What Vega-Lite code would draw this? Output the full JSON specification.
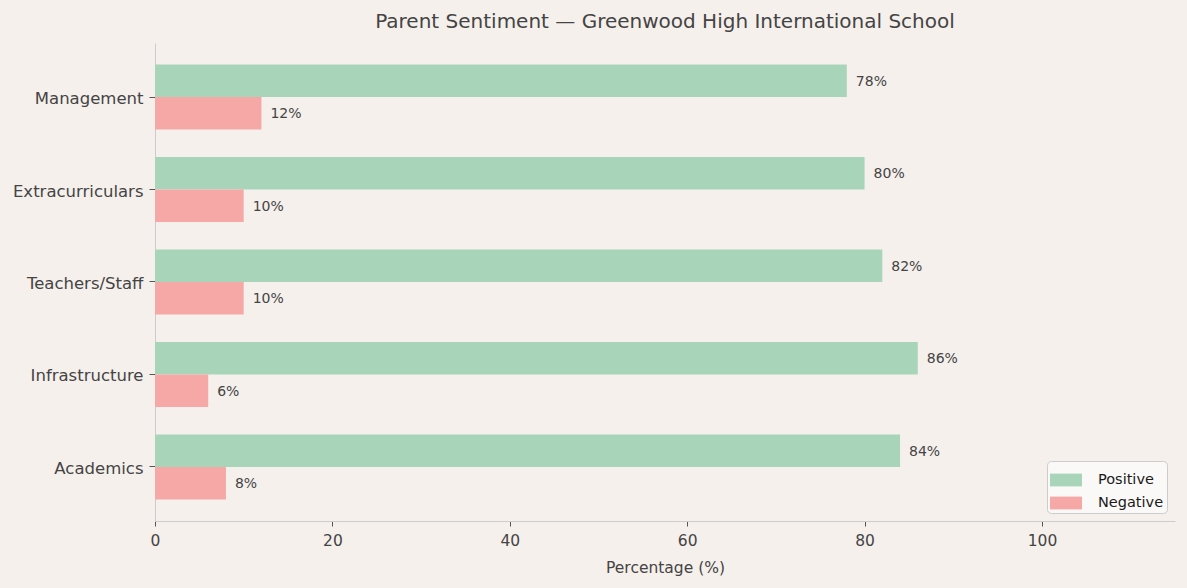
{
  "$schema": "https://vega.github.io/schema/vega-lite/v6.json",
  "width": 1020,
  "height": 478,
  "autosize": {"type": "none"},
  "padding": {"left": 155, "top": 43, "right": 12, "bottom": 67},
  "background": "#f5f0ec",
  "title": {
    "text": "Parent Sentiment — Greenwood High International School",
    "fontSize": 20,
    "fontWeight": "normal",
    "color": "#444444",
    "font": "DejaVu Sans",
    "offset": 11
  },
  "data": {
    "values": [
      {"category": "Management", "series": "Positive", "value": 78},
      {"category": "Management", "series": "Negative", "value": 12},
      {"category": "Extracurriculars", "series": "Positive", "value": 80},
      {"category": "Extracurriculars", "series": "Negative", "value": 10},
      {"category": "Teachers/Staff", "series": "Positive", "value": 82},
      {"category": "Teachers/Staff", "series": "Negative", "value": 10},
      {"category": "Infrastructure", "series": "Positive", "value": 86},
      {"category": "Infrastructure", "series": "Negative", "value": 6},
      {"category": "Academics", "series": "Positive", "value": 84},
      {"category": "Academics", "series": "Negative", "value": 8}
    ]
  },
  "encoding": {
    "y": {
      "field": "category",
      "type": "nominal",
      "sort": null,
      "scale": {"paddingInner": 0.297, "paddingOuter": 0.2325},
      "axis": {
        "title": null,
        "labelFontSize": 16.5,
        "labelColor": "#444444",
        "labelFont": "DejaVu Sans",
        "labelPadding": 6,
        "labelOffset": 2,
        "tickColor": "#555555",
        "tickSize": 6,
        "domainColor": "#cccccc"
      }
    },
    "yOffset": {
      "field": "series",
      "type": "nominal",
      "sort": ["Positive", "Negative"],
      "scale": {"paddingInner": 0, "paddingOuter": 0}
    },
    "x": {
      "field": "value",
      "type": "quantitative",
      "scale": {"domain": [0, 115], "nice": false},
      "axis": {
        "title": "Percentage (%)",
        "values": [0, 20, 40, 60, 80, 100],
        "grid": false,
        "labelFlush": false,
        "labelFontSize": 15.5,
        "labelColor": "#444444",
        "labelFont": "DejaVu Sans",
        "labelPadding": 7,
        "titleFontSize": 15.5,
        "titleFontWeight": "normal",
        "titleColor": "#444444",
        "titleFont": "DejaVu Sans",
        "titlePadding": 12,
        "tickColor": "#555555",
        "tickSize": 5,
        "domainColor": "#cccccc"
      }
    }
  },
  "layer": [
    {
      "mark": {"type": "bar"},
      "encoding": {
        "color": {
          "field": "series",
          "type": "nominal",
          "scale": {"domain": ["Positive", "Negative"], "range": ["#a8d5ba", "#f5a8a5"]},
          "legend": {
            "title": null,
            "orient": "bottom-right",
            "offset": 8,
            "labelFontSize": 14.5,
            "labelFont": "DejaVu Sans",
            "labelColor": "#1a1a1a",
            "symbolType": "M-1,-0.4H1V0.4H-1Z",
            "symbolSize": 1024,
            "symbolStrokeWidth": 0,
            "symbolOpacity": 1,
            "fillColor": "#fbf9f7",
            "strokeColor": "#cccccc",
            "cornerRadius": 4,
            "padding": 3,
            "rowPadding": 0,
            "labelOffset": 16
          }
        }
      }
    },
    {
      "transform": [{"calculate": "datum.value + '%'", "as": "label"}],
      "mark": {"type": "text", "align": "left", "baseline": "middle", "dx": 9, "dy": 1, "fontSize": 14, "font": "DejaVu Sans", "color": "#444444"},
      "encoding": {
        "text": {"field": "label", "type": "nominal"},
        "detail": {"field": "series"}
      }
    }
  ],
  "config": {
    "view": {"stroke": null}
  }
}
